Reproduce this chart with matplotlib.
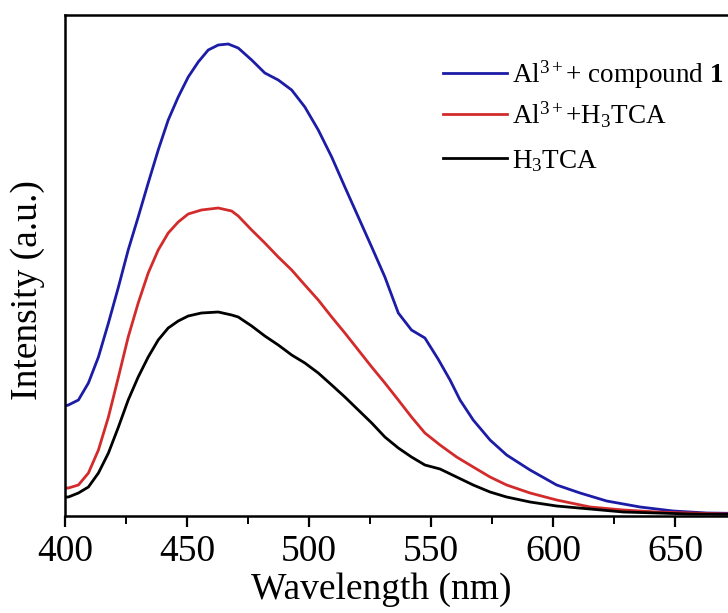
import matplotlib
matplotlib.use("Agg")
import matplotlib.pyplot as plt
from matplotlib.lines import Line2D

plt.rcParams['font.family'] = ['Liberation Serif', 'DejaVu Serif']
plt.rcParams['mathtext.fontset'] = 'custom'
plt.rcParams['mathtext.rm'] = 'Liberation Serif'
plt.rcParams['mathtext.it'] = 'Liberation Serif:italic'
plt.rcParams['mathtext.bf'] = 'Liberation Serif:bold'

# emission spectra, wavelength (nm) vs intensity (a.u.)
wl_blue = [400, 401.4, 405.5, 409.6, 413.7, 417.8, 421.9, 425.9, 430, 434.1, 438.2, 442.3, 446.4,
           450.5, 454.6, 458.7, 462.8, 466.9, 471.0, 476.5, 481.9, 487.4, 492.9, 498.3, 503.8,
           509.3, 514.7, 520.2, 525.7, 531.1, 536.6, 542.0, 547.5, 552.9, 557.8, 561.9, 567.3,
           574.2, 581.0, 590.6, 601.5, 611.1, 622.0, 635.7, 649.3, 663.0, 671.7, 700]
int_blue = [110, 111, 116, 133, 159, 193, 229, 266, 299, 333, 366, 396, 419,
            439, 454, 466, 471, 472, 468, 456, 443, 436, 426, 409, 386,
            359, 329, 299, 269, 239, 203, 186, 178, 157, 136, 116, 96,
            76, 61, 46, 31, 23, 15, 9, 5, 3, 2.7, 1.5]

wl_red = [400, 401.4, 405.5, 409.6, 413.7, 417.8, 421.9, 425.9, 430, 434.1, 438.2, 442.3, 446.4,
          450.5, 455.9, 462.8, 468.3, 471.0, 476.5, 481.9, 487.4, 492.9, 498.3, 503.8, 509.3,
          514.7, 520.2, 525.7, 531.1, 536.6, 542.0, 547.5, 553.7, 560.5, 567.3, 574.2, 581.0,
          590.6, 601.5, 615.2, 628.8, 642.5, 656.2, 671.7, 700]
int_red = [28, 28, 31, 43, 66, 99, 139, 179, 213, 243, 266, 283, 294,
           302, 306, 308, 305, 300, 286, 273, 259, 246, 231, 216, 199,
           183, 166, 149, 133, 116, 99, 83, 71, 59, 49, 39, 31,
           23, 16, 9, 6, 4, 3, 2, 1]

wl_black = [400, 401.4, 405.5, 409.6, 413.7, 417.8, 421.9, 425.9, 430, 434.1, 438.2, 442.3, 446.4,
            450.5, 455.9, 462.8, 468.3, 471.0, 476.5, 481.9, 487.4, 492.9, 498.3, 503.8, 509.3,
            514.7, 520.2, 525.7, 531.1, 536.6, 542.0, 547.5, 553.7, 560.5, 567.3, 574.2, 581.0,
            590.6, 601.5, 615.2, 628.8, 642.5, 656.2, 671.7, 700]
int_black = [19, 19, 23, 29, 43, 63, 89, 116, 139, 159, 176, 188, 195,
             200, 203, 204, 201, 199, 190, 180, 171, 161, 153, 143, 131,
             119, 106, 93, 79, 68, 59, 51, 47, 39, 31, 24, 19,
             14, 10, 7, 4, 3, 2, 1.7, 1]

labels = [r'Al$^{3+}$+ compound $\mathbf{1}$', r'Al$^{3+}$+H$_{3}$TCA', r'H$_{3}$TCA']
colors = ['#1c1ca6', '#d32b2b', '#000000']

fig = plt.figure(figsize=(7.28, 6.13), dpi=100)
# axes runs past the right edge of the figure
ax = fig.add_axes([65 / 728, 97 / 613, 732 / 728, 501 / 613])

ax.plot(wl_blue, int_blue, color=colors[0], lw=2.0, solid_joinstyle='round')
ax.plot(wl_red, int_red, color=colors[1], lw=2.0, solid_joinstyle='round')
ax.plot(wl_black, int_black, color=colors[2], lw=2.0, solid_joinstyle='round')

ax.set_xlim(400, 700)
ax.set_ylim(0, 501)
ax.set_xticks([400, 450, 500, 550, 600, 650])
ax.set_xticks([425, 475, 525, 575, 625, 675], minor=True)
ax.set_yticks([])
for s in ax.spines.values():
    s.set_linewidth(1.8)
ax.tick_params(axis='x', which='major', direction='out', length=8, width=1.6, labelsize=27, pad=5)
ax.tick_params(axis='x', which='minor', direction='out', length=6, width=1.4)

ax.set_xlabel('Wavelength (nm)', fontsize=27)
ax.set_ylabel('Intensity (a.u.)', fontsize=27)
ax.xaxis.set_label_coords(0.432, -0.113)
ax.yaxis.set_label_coords(-0.027, 0.451)

# hand-placed legend: short line sample followed by the label
W, H = 728, 613
for i, (lab, c) in enumerate(zip(labels, colors)):
    ly = [73, 114, 158][i]
    fig.add_artist(Line2D([443 / W, 507 / W], [1 - ly / H, 1 - ly / H], color=c, lw=2.0,
                          transform=fig.transFigure))
    fig.text(512 / W, 1 - (ly + 10) / H, lab, fontsize=19.5, ha='left', va='baseline')

fig.savefig('out.png', dpi=100)
